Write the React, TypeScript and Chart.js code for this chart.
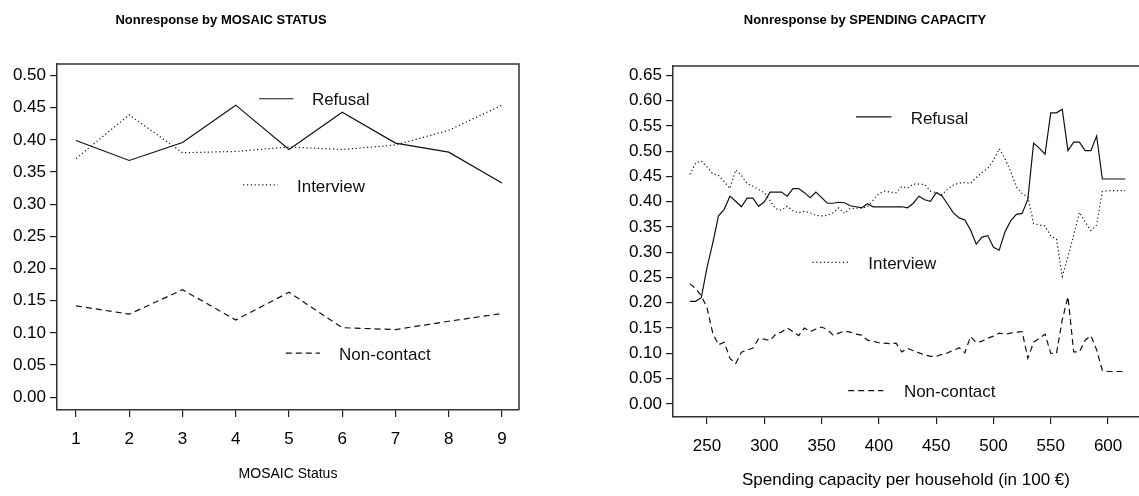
import React, { useEffect, useRef } from "react";
import { Chart, registerables } from "chart.js";

Chart.register(...registerables);

// ---------- Left panel: MOSAIC status ----------
const mosaicStatus = [1, 2, 3, 4, 5, 6, 7, 8, 9];
const mosaicRefusal = [0.399, 0.368, 0.396, 0.454, 0.385, 0.443, 0.395, 0.381, 0.333];
const mosaicInterview = [0.371, 0.439, 0.38, 0.382, 0.389, 0.385, 0.392, 0.415, 0.454];
const mosaicNonContact = [0.142, 0.129, 0.167, 0.12, 0.163, 0.108, 0.105, 0.118, 0.13];
const mosaicXTicks = [1, 2, 3, 4, 5, 6, 7, 8, 9];
const mosaicYTicks = [0, 0.05, 0.1, 0.15, 0.2, 0.25, 0.3, 0.35, 0.4, 0.45, 0.5];

// ---------- Right panel: spending capacity ----------
const spendingCapacity = [
  235, 240, 245, 250, 255, 260, 265, 270, 275, 280, 285, 290, 295, 300, 305, 310,
  315, 320, 325, 330, 335, 340, 345, 350, 355, 360, 365, 370, 375, 380, 385, 390,
  395, 400, 405, 410, 415, 420, 425, 430, 435, 440, 445, 450, 455, 460, 465, 470,
  475, 480, 485, 490, 495, 500, 505, 510, 515, 520, 525, 530, 535, 540, 545, 550,
  555, 560, 565, 570, 575, 580, 585, 590, 595, 600, 605, 610, 615,
];
const spendingRefusal = [
  0.203, 0.203, 0.21, 0.27, 0.318, 0.372, 0.385, 0.411, 0.401, 0.39, 0.407, 0.407, 0.391, 0.4, 0.419, 0.419,
  0.419, 0.411, 0.426, 0.426, 0.418, 0.408, 0.419, 0.408, 0.397, 0.397, 0.399, 0.398, 0.392, 0.39, 0.388, 0.396,
  0.39, 0.39, 0.39, 0.39, 0.39, 0.39, 0.388, 0.397, 0.411, 0.404, 0.401, 0.418, 0.412, 0.395, 0.378, 0.368,
  0.364, 0.344, 0.316, 0.33, 0.333, 0.31, 0.304, 0.34, 0.362, 0.375, 0.377, 0.405, 0.516, 0.506, 0.494, 0.576,
  0.576, 0.583, 0.501, 0.518, 0.518, 0.501, 0.501, 0.53, 0.445, 0.445, 0.445, 0.445, 0.445,
];
const spendingInterview = [
  0.454, 0.476, 0.481, 0.469, 0.455, 0.452, 0.44, 0.426, 0.463, 0.452, 0.436, 0.431, 0.424, 0.418, 0.402, 0.386,
  0.383, 0.391, 0.382, 0.378, 0.381, 0.378, 0.373, 0.372, 0.373, 0.378, 0.388, 0.377, 0.387, 0.387, 0.388, 0.39,
  0.403, 0.416, 0.421, 0.419, 0.418, 0.43, 0.427, 0.435, 0.435, 0.434, 0.421, 0.418, 0.414, 0.425, 0.433, 0.437,
  0.438, 0.436, 0.448, 0.458, 0.466, 0.482, 0.505, 0.485, 0.46, 0.43, 0.416, 0.41, 0.357, 0.354, 0.352, 0.332,
  0.326, 0.252, 0.291, 0.334, 0.379, 0.36, 0.343, 0.354, 0.42, 0.422, 0.422, 0.422, 0.422,
];
const spendingNonContact = [
  0.238, 0.228, 0.214, 0.19, 0.14, 0.117, 0.122, 0.09, 0.08, 0.102, 0.107, 0.11, 0.129, 0.128, 0.125, 0.138,
  0.142, 0.15, 0.143, 0.135, 0.15, 0.143, 0.148, 0.152, 0.147, 0.136, 0.14, 0.144, 0.142, 0.138, 0.136, 0.126,
  0.124, 0.121, 0.12, 0.119, 0.12, 0.103, 0.11, 0.105, 0.101, 0.097, 0.094, 0.094, 0.098, 0.101, 0.106, 0.111,
  0.101, 0.133, 0.121, 0.124, 0.13, 0.134, 0.14, 0.138, 0.14, 0.142, 0.143, 0.09, 0.122, 0.13, 0.138, 0.1,
  0.1, 0.166, 0.212, 0.103, 0.103, 0.126, 0.135, 0.107, 0.066, 0.064, 0.064, 0.064, 0.064,
];
const spendingXTicks = [250, 300, 350, 400, 450, 500, 550, 600];
const spendingYTicks = [0, 0.05, 0.1, 0.15, 0.2, 0.25, 0.3, 0.35, 0.4, 0.45, 0.5, 0.55, 0.6, 0.65];

const seriesNames = ["Refusal", "Interview", "Non-contact"];

const FONT = '"Liberation Sans", Arial, sans-serif';
const INK = "#111";
const DASHES: number[][] = [[], [1.2, 2.6], [6, 4]];

type LegendSpot = { x1: number; x2: number; y: number; tx: number };

type PanelSpec = {
  title: string;
  titleX: number;
  xTitle: string;
  xTitleSize: number;
  xTitlePad: number;
  xs: number[];
  series: number[][];
  xMin: number;
  xMax: number;
  yMin: number;
  yMax: number;
  xTicks: number[];
  yTicks: number[];
  yWidth: number;
  xHeight: number;
  padTop: number;
  padRight: number;
  rightBorder: boolean;
  legend: LegendSpot[];
};

const framePlugin = {
  id: "frameAndNotes",
  afterDraw(chart: any, _args: any, opts: any) {
    const { ctx, chartArea: a, scales } = chart;
    ctx.save();
    // top (and right) frame lines
    ctx.strokeStyle = "#333";
    ctx.lineWidth = 1.5;
    ctx.beginPath();
    ctx.moveTo(a.left, a.top);
    ctx.lineTo(a.right, a.top);
    if (opts.rightBorder) ctx.lineTo(a.right, a.bottom);
    ctx.stroke();

    // in-plot legend annotations (placed in data units)
    ctx.strokeStyle = INK;
    ctx.fillStyle = INK;
    ctx.lineWidth = 1.2;
    ctx.font = `17px ${FONT}`;
    ctx.textAlign = "left";
    ctx.textBaseline = "middle";
    (opts.legend as LegendSpot[]).forEach((l, i) => {
      const x1 = scales.x.getPixelForValue(l.x1);
      const x2 = scales.x.getPixelForValue(l.x2);
      const y = scales.y.getPixelForValue(l.y);
      ctx.setLineDash(DASHES[i]);
      ctx.beginPath();
      ctx.moveTo(x1, y);
      ctx.lineTo(x2, y);
      ctx.stroke();
      ctx.setLineDash([]);
      ctx.fillText(seriesNames[i], scales.x.getPixelForValue(l.tx), y + 2);
    });

    // panel title
    ctx.font = `bold 13px ${FONT}`;
    ctx.textAlign = "center";
    ctx.fillStyle = "#000";
    ctx.fillText(opts.title, opts.titleX, 20);
    ctx.restore();
  },
};

function Panel({ spec, left, width }: { spec: PanelSpec; left: number; width: number }) {
  const ref = useRef<HTMLCanvasElement>(null);
  useEffect(() => {
    if (!ref.current) return;
    const tickFont = { family: FONT, size: 17 };
    const chart = new Chart(ref.current, {
      type: "line",
      data: {
        datasets: spec.series.map((vals, i) => ({
          label: seriesNames[i],
          data: spec.xs.map((x, j) => ({ x, y: vals[j] })),
          borderColor: INK,
          borderWidth: 1.2,
          borderDash: DASHES[i],
          pointRadius: 0,
          fill: false,
          tension: 0,
        })),
      },
      options: {
        animation: false,
        responsive: false,
        maintainAspectRatio: false,
        layout: { padding: { top: spec.padTop, right: spec.padRight, left: 0, bottom: 0 } },
        plugins: {
          legend: { display: false },
          tooltip: { enabled: false },
          title: { display: false },
          frameAndNotes: {
            title: spec.title,
            titleX: spec.titleX,
            rightBorder: spec.rightBorder,
            legend: spec.legend,
          },
        } as any,
        scales: {
          x: {
            type: "linear",
            min: spec.xMin,
            max: spec.xMax,
            afterBuildTicks: (s: any) => {
              s.ticks = spec.xTicks.map((v) => ({ value: v }));
            },
            afterFit: (s: any) => {
              s.height = spec.xHeight;
            },
            ticks: {
              font: tickFont,
              color: "#000",
              padding: 12,
              maxRotation: 0,
              autoSkip: false,
              callback: (v: any) => String(v),
            },
            grid: { drawOnChartArea: false, drawTicks: true, tickLength: 7, color: "#222", lineWidth: 1.2 },
            border: { display: true, color: "#333", width: 1.5 },
            title: {
              display: true,
              text: spec.xTitle,
              font: { family: FONT, size: spec.xTitleSize },
              color: "#000",
              padding: { top: 0, bottom: spec.xTitlePad },
            },
          },
          y: {
            type: "linear",
            min: spec.yMin,
            max: spec.yMax,
            afterBuildTicks: (s: any) => {
              s.ticks = spec.yTicks.map((v) => ({ value: v }));
            },
            afterFit: (s: any) => {
              s.width = spec.yWidth;
            },
            ticks: {
              font: tickFont,
              color: "#000",
              padding: 4,
              autoSkip: false,
              callback: (v: any) => Number(v).toFixed(2),
            },
            grid: { drawOnChartArea: false, drawTicks: true, tickLength: 7, color: "#222", lineWidth: 1.2 },
            border: { display: true, color: "#333", width: 1.5 },
          },
        },
      },
      plugins: [framePlugin],
    });
    return () => chart.destroy();
  }, [spec]);
  return (
    <div style={{ position: "absolute", left, top: 0, width, height: 496 }}>
      <canvas ref={ref} width={width} height={496} style={{ display: "block" }} />
    </div>
  );
}

const leftSpec: PanelSpec = {
  title: "Nonresponse by MOSAIC STATUS",
  titleX: 221,
  xTitle: "MOSAIC Status",
  xTitleSize: 14,
  xTitlePad: 13,
  xs: mosaicStatus,
  series: [mosaicRefusal, mosaicInterview, mosaicNonContact],
  xMin: 0.643,
  xMax: 9.32,
  yMin: -0.02,
  yMax: 0.518,
  xTicks: mosaicXTicks,
  yTicks: mosaicYTicks,
  yWidth: 57,
  xHeight: 86,
  padTop: 64,
  padRight: 51,
  rightBorder: true,
  legend: [
    { x1: 4.44, x2: 5.08, y: 0.464, tx: 5.43 },
    { x1: 4.14, x2: 4.79, y: 0.33, tx: 5.15 },
    { x1: 4.94, x2: 5.58, y: 0.0685, tx: 5.94 },
  ],
};

const rightSpec: PanelSpec = {
  title: "Nonresponse by SPENDING CAPACITY",
  titleX: 295,
  xTitle: "Spending capacity per household (in 100 €)",
  xTitleSize: 17,
  xTitlePad: 5,
  xs: spendingCapacity,
  series: [spendingRefusal, spendingInterview, spendingNonContact],
  xMin: 220.3,
  xMax: 627,
  yMin: -0.026,
  yMax: 0.6686,
  xTicks: spendingXTicks,
  yTicks: spendingYTicks,
  yWidth: 103,
  xHeight: 79,
  padTop: 66,
  padRight: 0,
  rightBorder: false,
  legend: [
    { x1: 380, x2: 411, y: 0.568, tx: 427.7 },
    { x1: 342, x2: 373.4, y: 0.28, tx: 390.7 },
    { x1: 373.2, x2: 403.8, y: 0.026, tx: 421.8 },
  ],
};

export default function App() {
  return (
    <div style={{ position: "absolute", left: 0, top: 0, width: 1139, height: 496, background: "#fff" }}>
      <Panel spec={leftSpec} left={0} width={570} />
      <Panel spec={rightSpec} left={570} width={569} />
    </div>
  );
}
